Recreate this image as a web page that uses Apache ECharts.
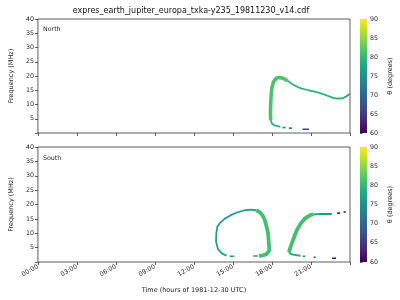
<!DOCTYPE html>
<html>
<head>
<meta charset="utf-8">
<script src="https://cdn.jsdelivr.net/npm/echarts@6/dist/echarts.min.js"></script>
<style>html,body{margin:0;padding:0;background:#fff}#c{width:400px;height:300px}</style>
</head>
<body>
<div id="c"></div>
<script>
// ---------- DATA ----------
const titleText = 'expres_earth_jupiter_europa_txka-y235_19811230_v14.cdf';
const timeTickLabels = ['00:00','03:00','06:00','09:00','12:00','15:00','18:00','21:00'];
const thetaRange = [60, 90];

// North panel: [hour, frequency MHz]
const northRise  = [[17.9,4.5],[17.88,7],[17.9,10],[17.93,13],[18.0,16],[18.12,18.0],[18.35,19.3],[18.6,19.5],[18.9,19.1],[19.2,18.3]];
const northFall  = [[19.2,18.3],[19.6,17.0],[20.0,16.1],[20.3,15.6],[20.8,15.0],[21.3,14.5],[21.7,14.0],[22.2,13.2],[22.7,12.3],[23.0,12.1],[23.4,12.1]];
const northTail  = [[23.4,12.1],[23.7,12.8],[24.0,13.8]];
const northFoot  = [[17.9,4.5],[18.0,3.3],[18.2,2.7],[18.45,2.4],[18.65,2.2]];
const northDash1 = [[18.8,1.95],[19.05,1.9]];
const northDash2 = [[19.3,1.7],[19.55,1.7]];
const northDash3 = [[20.35,1.3],[20.85,1.3]];
const northCurves = [northRise, northFall, northTail, northFoot, northDash1, northDash2, northDash3];
const northTheta  = [81.5, 79.5, 75.5, 79, 75, 75, 66];

// South panel: [hour, frequency MHz]
const southLoopLeft  = [[14.5,2.2],[14.15,3.0],[13.85,4.4],[13.7,7],[13.72,10],[13.8,12.3],[14.0,13.6],[14.35,15.0],[14.8,16.2],[15.3,17.2],[15.9,18.0],[16.4,18.2],[16.8,18.0]];
const southLoopRight = [[16.8,18.0],[17.1,17.2],[17.3,16.0],[17.45,14.6],[17.6,12],[17.7,10],[17.75,7],[17.8,4.2],[17.6,2.8],[17.3,2.3],[17.0,2.1]];
const southDashA     = [[14.75,2.0],[15.1,2.0]];
const southDashB     = [[16.55,2.1],[16.9,2.1]];
const southArcRise   = [[19.3,3.5],[19.45,5.5],[19.65,8],[19.9,11],[20.2,13.3],[20.55,15.2],[20.9,16.2],[21.2,16.6]];
const southArcTop    = [[21.2,16.6],[21.8,16.7],[22.6,16.7]];
const southArcFoot   = [[19.3,3.5],[19.45,2.8],[19.8,2.4],[20.2,2.2]];
const southDashC     = [[20.37,2.0],[20.57,2.0]];
const southDashD     = [[21.2,1.65],[21.37,1.65]];
const southDashE     = [[22.63,1.3],[22.93,1.3]];
const southDashF     = [[23.0,17.0],[23.25,17.0]];
const southDashG     = [[23.5,17.4],[23.68,17.4]];
const southCurves = [southLoopLeft, southLoopRight, southDashA, southDashB, southArcRise, southArcTop, southArcFoot, southDashC, southDashD, southDashE, southDashF, southDashG];
const southTheta  = [77, 81, 76, 76, 81, 76, 79, 74, 70, 61, 66, 62];

// ---------- STYLE ----------
const northWidths = [3.6, 1.8, 1.6, 1.8, 1.6, 1.6, 1.6];
const southWidths = [1.8, 3.8, 1.6, 1.6, 3.8, 1.8, 2, 1.6, 1.6, 1.6, 1.6, 1.6];
const viridis = ['#440154','#482475','#414487','#355f8d','#2a788e','#21918c','#22a884','#44bf70','#7ad151','#bddf26','#fde725'];
function hex2rgb(h){return [parseInt(h.substr(1,2),16),parseInt(h.substr(3,2),16),parseInt(h.substr(5,2),16)];}
function colorFor(theta){
  let t = (theta - thetaRange[0])/(thetaRange[1]-thetaRange[0]);
  t = Math.max(0, Math.min(1, t));
  const p = t*(viridis.length-1), i = Math.min(Math.floor(p), viridis.length-2), f = p - i;
  const a = hex2rgb(viridis[i]), b = hex2rgb(viridis[i+1]);
  return 'rgb(' + a.map((v,k)=>Math.round(v+(b[k]-v)*f)).join(',') + ')';
}
const FONT = 'DejaVu Sans';
const TXT = '#222';
const FS = 6.3;

const series = [];
function addCurves(curves, thetas, widths, idx){
  curves.forEach((pts, i) => {
    series.push({
      type:'line', xAxisIndex:idx, yAxisIndex:idx, data:pts, showSymbol:false, silent:true,
      lineStyle:{color:colorFor(thetas[i]), width:widths[i], cap:'butt', join:'round'}
    });
  });
}
addCurves(northCurves, northTheta, northWidths, 0);
addCurves(southCurves, southTheta, southWidths, 1);

function mainX(idx, showLabels){
  return {
    type:'value', gridIndex:idx, min:0, max:24, interval:3,
    axisLine:{show:false}, splitLine:{show:false},
    axisTick:{show:true, length:3, lineStyle:{color:'#333', width:0.8}},
    axisLabel:{show:showLabels, rotate:30, fontSize:FS, fontFamily:FONT, color:TXT, margin:4,
      formatter:v => (v/3 < timeTickLabels.length ? timeTickLabels[v/3] : '')},
    name: showLabels ? 'Time (hours of 1981-12-30 UTC)' : '',
    nameLocation:'middle', nameGap:25,
    nameTextStyle:{fontSize:6.5, fontFamily:FONT, color:TXT}
  };
}
function mainY(idx){
  return {
    type:'value', gridIndex:idx, min:0, max:40, interval:5,
    axisLine:{show:false}, splitLine:{show:false},
    axisTick:{show:true, length:3, lineStyle:{color:'#333', width:0.8}},
    axisLabel:{fontSize:FS, fontFamily:FONT, color:TXT, margin:4, formatter:v => v===0 ? '' : String(v)},
    name:'Frequency (MHz)', nameLocation:'middle', nameGap:18,
    nameTextStyle:{fontSize:6.5, fontFamily:FONT, color:TXT}
  };
}
function cbY(idx){
  return {
    type:'value', gridIndex:idx, position:'right', min:thetaRange[0], max:thetaRange[1], interval:5,
    axisLine:{show:false}, splitLine:{show:false},
    axisTick:{show:true, length:2.5, lineStyle:{color:'#333', width:0.8}},
    axisLabel:{fontSize:FS, fontFamily:FONT, color:TXT, margin:3},
    name:'θ (degrees)', nameLocation:'middle', nameGap:20, nameRotate:90,
    nameTextStyle:{fontSize:6.5, fontFamily:FONT, color:TXT}
  };
}
function colorbar(top, h){
  const stops = viridis.map((c,i)=>({offset:1 - i/(viridis.length-1), color:c}));
  return {type:'rect', shape:{x:360, y:top, width:7, height:h}, z:10,
    style:{fill:new echarts.graphic.LinearGradient(0,0,0,1,stops.reverse()), stroke:null}};
}

const option = {
  animation:false,
  grid:[
    {left:31, top:19, width:319, height:114, show:true, borderColor:'#333', borderWidth:0.8},
    {left:31, top:147, width:319, height:115, show:true, borderColor:'#333', borderWidth:0.8},
    {left:360, top:19, width:7, height:114},
    {left:360, top:147, width:7, height:115}
  ],
  xAxis:[mainX(0,false), mainX(1,true),
    {type:'value', gridIndex:2, show:false}, {type:'value', gridIndex:3, show:false}],
  yAxis:[mainY(0), mainY(1), cbY(2), cbY(3)],
  graphic:[
    {type:'text', style:{text:titleText, x:191, y:11, textAlign:'center', textVerticalAlign:'middle', fontSize:8, fontFamily:FONT, fill:'#111'}},
    {type:'text', style:{text:'North', x:43, y:29, textVerticalAlign:'middle', fontSize:FS, fontFamily:FONT, fill:TXT}},
    {type:'text', style:{text:'South', x:43, y:158, textVerticalAlign:'middle', fontSize:FS, fontFamily:FONT, fill:TXT}},
    colorbar(19,114), colorbar(147,115)
  ],
  series:series
};
const chart = echarts.init(document.getElementById('c'), null, {renderer:'canvas'});
chart.setOption(option);
</script>
</body>
</html>
